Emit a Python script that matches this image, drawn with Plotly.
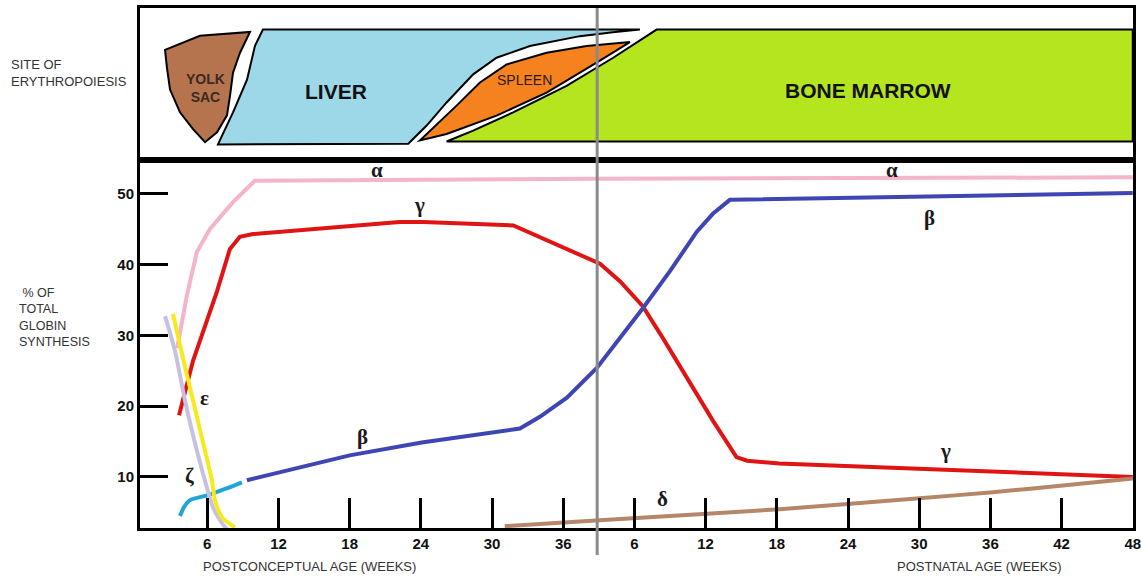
import plotly.graph_objects as go

# ---------------- data ----------------
# x = position on the chart's continuous timeline in weeks
# (postconceptual weeks 0-36, then postnatal week w plotted at 36 + w)
x_tick_vals = [6, 12, 18, 24, 30, 36, 42, 48, 54, 60, 66, 72, 78, 84]
x_tick_text = ['6', '12', '18', '24', '30', '36', '6', '12', '18', '24', '30', '36', '42', '48']
y_tick_vals = [10, 20, 30, 40, 50]
birth_week = 38.86

alpha_x = [3.46, 3.87, 4.29, 5.13, 6.23, 8.17, 10.0, 39.1, 84.0]
alpha_y = [28.2, 31.6, 35.7, 41.8, 45.0, 48.8, 51.8, 52.1, 52.3]

gamma_x = [3.62, 4.8, 6.82, 7.91, 8.75, 9.85, 22.2, 24.2, 31.8, 37.4, 39.1, 40.8, 42.7, 44.4, 48.6, 50.6, 51.5, 54.2, 84.0]
gamma_y = [18.7, 26.4, 36.2, 42.2, 43.9, 44.3, 46.0, 46.0, 45.5, 41.4, 40.1, 37.6, 34.1, 29.6, 18.0, 12.8, 12.3, 11.9, 10.0]

beta_early_x = [3.70, 4.04, 4.54, 6.06, 7.66, 8.92]
beta_early_y = [4.48, 5.74, 6.73, 7.43, 8.41, 9.25]

beta_x = [9.34, 18.0, 24.07, 30.07, 32.35, 34.03, 36.31, 38.83, 40.77, 42.71, 44.98, 47.26, 48.61, 50.04, 84.0]
beta_y = [9.54, 13.05, 14.87, 16.3, 16.84, 18.5, 21.19, 25.4, 29.61, 33.82, 39.01, 44.63, 47.15, 49.12, 50.1]

epsilon_x = [3.11, 3.95, 4.8, 5.81, 6.4, 6.65, 7.24, 8.33]
epsilon_y = [33.0, 26.8, 20.8, 13.7, 9.5, 6.7, 4.3, 2.9]

zeta_x = [2.44, 3.28, 4.12, 5.13, 5.97, 6.48, 7.24, 7.74]
zeta_y = [32.7, 27.8, 20.8, 13.7, 8.5, 5.7, 3.5, 2.5]

delta_x = [31.07, 39.07, 54.24, 66.03, 72.2, 78.1, 84.0]
delta_y = [3.06, 3.9, 5.46, 7.0, 7.85, 8.8, 9.8]

# Sites of erythropoiesis: outlines as (week, relative height 0-1 in the top band)
yolk_sac_x = [2.44, 5.38, 9.60, 8.76, 8.17, 7.92, 7.66, 6.82, 5.81, 4.80, 3.70, 2.86, 2.60]
yolk_sac_y = [0.725, 0.817, 0.843, 0.706, 0.575, 0.425, 0.294, 0.183, 0.118, 0.203, 0.314, 0.464, 0.608]

liver_x = [10.69, 42.46, 40.18, 37.40, 33.19, 30.38, 28.41, 26.17, 24.49, 22.94, 6.90, 8.17, 9.35, 10.02]
liver_y = [0.858, 0.858, 0.841, 0.815, 0.750, 0.673, 0.564, 0.379, 0.227, 0.107, 0.103, 0.314, 0.529, 0.752]

spleen_x = [23.92, 27.01, 28.98, 31.23, 34.60, 37.97, 41.62, 38.81, 34.60, 30.38, 26.17]
spleen_y = [0.129, 0.358, 0.510, 0.629, 0.706, 0.750, 0.776, 0.641, 0.444, 0.292, 0.172]

marrow_x = [26.17, 28.41, 31.78, 36.28, 40.21, 43.87, 84.0, 84.0]
marrow_y = [0.122, 0.194, 0.314, 0.488, 0.673, 0.858, 0.858, 0.122]

site_labels = ['<b>YOLK<br>SAC</b>', '<b>LIVER</b>', 'SPLEEN', '<b>BONE MARROW</b>']
site_label_x = [5.82, 16.84, 32.77, 61.67]
site_label_y = [0.477, 0.451, 0.529, 0.458]

chain_labels = ['α', 'α', 'γ', 'γ', 'β', 'β', 'ε', 'ζ', 'δ']
chain_label_x = [20.3, 63.7, 23.9, 68.2, 66.9, 19.1, 5.8, 4.5, 44.4]
chain_label_y = [53.4, 53.4, 48.4, 13.6, 46.6, 15.6, 21.2, 10.2, 6.9]

# ---------------- figure ----------------
fig = go.Figure()

def add_line(xs, ys, color, width=4, smooth=None):
    line = dict(color=color, width=width)
    if smooth:
        line.update(shape='spline', smoothing=smooth)
    fig.add_trace(go.Scatter(x=xs, y=ys, mode='lines', line=line,
                             hoverinfo='skip', showlegend=False, xaxis='x', yaxis='y'))

add_line(gamma_x, gamma_y, '#e01414')
add_line(alpha_x, alpha_y, '#f4b4c9')
add_line(beta_x, beta_y, '#3f46b3')
add_line(beta_early_x, beta_early_y, '#1fa6d6', smooth=0.8)
add_line(zeta_x, zeta_y, '#c8c0e0', smooth=0.6)
add_line(epsilon_x, epsilon_y, '#f6ea1c', smooth=0.6)
add_line(delta_x, delta_y, '#b58768', smooth=0.6)

# invisible trace to instantiate the top band axes
fig.add_trace(go.Scatter(x=[0.33], y=[0], mode='markers', marker=dict(opacity=0),
                         hoverinfo='skip', showlegend=False, xaxis='x2', yaxis='y2'))

def path_from(xs, ys):
    pts = ['{} {},{}'.format('M' if i == 0 else 'L', x, y) for i, (x, y) in enumerate(zip(xs, ys))]
    return ' '.join(pts) + ' Z'

shapes = []
for xs, ys, col in [(yolk_sac_x, yolk_sac_y, '#b5744e'),
                    (liver_x, liver_y, '#9dd8e9'),
                    (spleen_x, spleen_y, '#f5821f'),
                    (marrow_x, marrow_y, '#b5e51e')]:
    shapes.append(dict(type='path', path=path_from(xs, ys), xref='x2', yref='y2',
                       fillcolor=col, line=dict(color='black', width=2), layer='above'))

shapes.append(dict(type='line', x0=birth_week, x1=birth_week, xref='x', yref='paper',
                   y0=-0.052, y1=1.0, line=dict(color='#8a8a8a', width=3), layer='above'))

annotations = []
for t, x, y in zip(site_labels, site_label_x, site_label_y):
    if 'BONE' in t or 'LIVER' in t:
        f = dict(family='Liberation Sans, Arial', size=21, color='#111')
    elif 'SPLEEN' in t:
        f = dict(family='Liberation Sans, Arial', size=14, color='#2a1a10')
    else:
        f = dict(family='Liberation Sans, Arial', size=14, color='#3a2a20')
    annotations.append(dict(text=t, x=x, y=y, xref='x2', yref='y2', showarrow=False, font=f))

for t, x, y in zip(chain_labels, chain_label_x, chain_label_y):
    annotations.append(dict(text='<b>' + t + '</b>', x=x, y=y, xref='x', yref='y', showarrow=False,
                            font=dict(family='Liberation Serif, Times New Roman', size=21, color='#1a1a1a')))

axis_title_font = dict(family='Liberation Sans, Arial', size=13, color='#333')
annotations += [
    dict(text='POSTCONCEPTUAL AGE (WEEKS)', x=14.65, y=-0.0746, xref='x', yref='paper',
         yanchor='middle', showarrow=False, font=axis_title_font),
    dict(text='POSTNATAL AGE (WEEKS)', x=71.0, y=-0.0746, xref='x', yref='paper',
         yanchor='middle', showarrow=False, font=axis_title_font),
    dict(text='SITE OF<br>ERYTHROPOIESIS', x=-0.132, y=0.875, xref='paper', yref='paper',
         xanchor='left', yanchor='middle', align='left', showarrow=False,
         font=dict(family='Liberation Sans, Arial', size=13, color='#333')),
    dict(text=' % OF<br>TOTAL<br>GLOBIN<br>SYNTHESIS', x=-0.124, y=0.404, xref='paper', yref='paper',
         xanchor='left', yanchor='middle', align='left', showarrow=False,
         font=dict(family='Liberation Sans, Arial', size=12.5, color='#333')),
]

tick_font = dict(family='Liberation Sans, Arial', size=15, color='#111', weight='bold')

fig.update_layout(
    width=1141, height=581,
    margin=dict(l=140, r=8, t=5, b=53),
    paper_bgcolor='white', plot_bgcolor='white',
    xaxis=dict(domain=[0, 1], range=[0.33, 84.02], anchor='y', showgrid=False, zeroline=False,
               showline=True, linewidth=3, linecolor='black', mirror=True,
               ticks='inside', ticklen=30, tickwidth=2.5, tickcolor='black',
               ticklabeloverflow='allow', automargin=False,
               tickvals=x_tick_vals, ticktext=x_tick_text, tickfont=tick_font),
    yaxis=dict(domain=[0, 0.7075], range=[2.8, 54.73], anchor='x', showgrid=False, zeroline=False,
               showline=True, linewidth=3, linecolor='black', mirror=True,
               ticks='inside', ticklen=28, tickwidth=3, tickcolor='black', automargin=False,
               tickvals=y_tick_vals, tickfont=tick_font),
    xaxis2=dict(domain=[0, 1], range=[0.33, 84.02], anchor='y2', showgrid=False, zeroline=False,
                showline=True, linewidth=3, linecolor='black', mirror=True,
                showticklabels=False, ticks=''),
    yaxis2=dict(domain=[0.7075, 1], range=[0, 1], anchor='x2', showgrid=False, zeroline=False,
                showline=True, linewidth=3, linecolor='black', mirror=True,
                showticklabels=False, ticks=''),
    shapes=shapes,
    annotations=annotations,
)

fig.write_html('out.html', config={'displayModeBar': False},
               post_script="document.body.style.margin='0px';")
